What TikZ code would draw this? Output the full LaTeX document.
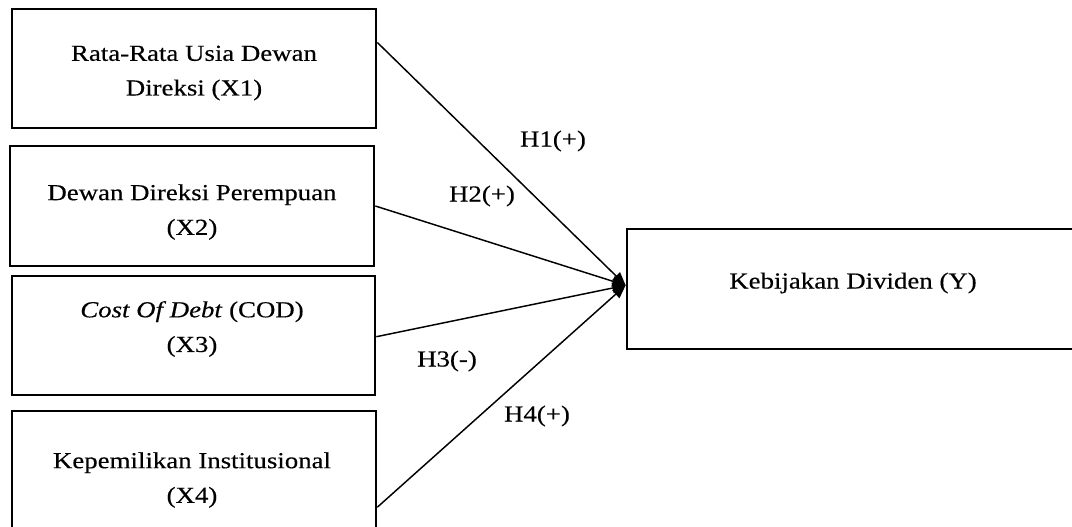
\documentclass[tikz,border=0pt]{standalone}
\usepackage{fontspec}
\setmainfont[FakeStretch=1.17,FakeBold=0.35]{Liberation Serif}
\usetikzlibrary{arrows.meta,fit,calc}
\tikzset{
  box/.style={draw=black, line width=2pt, inner sep=0pt},
  txt/.style={align=center, inner sep=0pt, font=\fontsize{17.2}{26}\selectfont},
  hyp/.style={inner sep=0pt, font=\fontsize{17.2}{26}\selectfont},
  conn/.style={line width=1.1pt, -{Triangle[length=10pt,width=8pt]}}
}
\begin{document}
\begin{tikzpicture}[x=0.75pt,y=-0.75pt]
\useasboundingbox (0,0) rectangle (1072,526);
% boxes
\node[box, fit={(12,9) (376,128)}] (x1) {};
\node[box, fit={(10,146) (374,266)}] (x2) {};
\node[box, fit={(12,276) (375,395)}] (x3) {};
\node[box, fit={(12,411) (376,535)}] (x4) {};
\node[box, fit={(627,229) (1080,349)}] (y) {};
% texts
\node[txt] (t1) at (194,73) {Rata-Rata Usia Dewan\\Direksi (X1)};
\node[txt] (t2) at (192,212) {Dewan Direksi Perempuan\\(X2)};
\node[txt] (t3) at (192,329) {\textit{Cost Of Debt} (COD)\\(X3)};
\node[txt] (t4) at (192,480) {Kepemilikan Institusional\\(X4)};
\node[hyp] (ty) at (853,283) {Kebijakan Dividen (Y)};
% hypothesis labels
\node[hyp] (h1) at (553,141) {H1(+)};
\node[hyp] (h2) at (482,196) {H2(+)};
\node[hyp] (h3) at (447,361) {H3(-)};
\node[hyp] (h4) at (537,416) {H4(+)};
% connectors
\coordinate (tip) at ($(y.north west)!0.47!(y.south west)$);
\draw[conn] ($(x1.north east)!0.286!(x1.south east)$) -- (tip);
\draw[conn] (x2.east) -- (tip);
\draw[conn] ($(x3.north east)!0.51!(x3.south east)$) -- (tip);
\draw[conn] ($(x4.north east)!0.77!(x4.south east)$) -- (tip);
\end{tikzpicture}
\end{document}
